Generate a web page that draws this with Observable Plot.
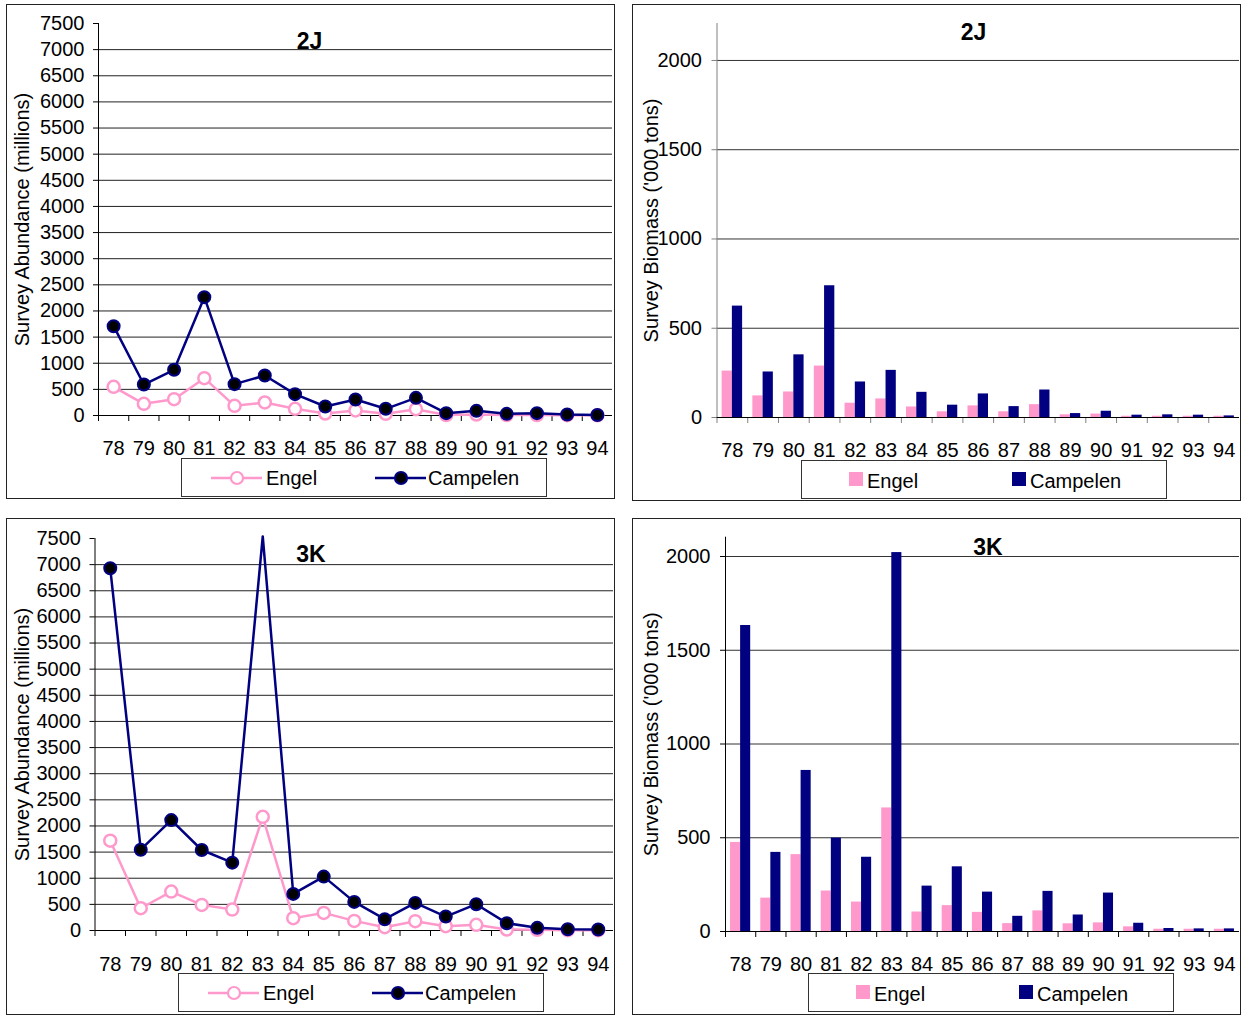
<!DOCTYPE html>
<html><head><meta charset="utf-8">
<script src="https://cdn.jsdelivr.net/npm/d3@7"></script>
<script src="https://cdn.jsdelivr.net/npm/@observablehq/plot@0.6"></script>
<style>
body{margin:0;background:#fff;font-family:"Liberation Sans",Arial,sans-serif;}
#root{position:relative;width:1241px;height:1015px;overflow:hidden;background:#fff;}
.panel{position:absolute;border:1px solid #222;box-sizing:border-box;}
.chart{position:absolute;}
.legend{position:absolute;border:1px solid #333;box-sizing:border-box;background:#fff;font-size:20px;color:#000;}
.legend .item{position:absolute;top:0;height:100%;display:flex;align-items:center;}
.legend svg{position:absolute;}
.legend span{position:absolute;line-height:20px;}
</style>
</head><body>
<div id="root"></div>
<script>
// ---------- data ----------
const years = [78,79,80,81,82,83,84,85,86,87,88,89,90,91,92,93,94];
const seriesNames = ["Engel", "Campelen"];
const abund2J_engel    = [548,223,312,714,185,249,128,38,96,32,121,8,19,8,8,5,3];
const abund2J_campelen = [1709,593,874,2264,600,765,408,172,306,128,338,45,89,32,45,19,10];
const biom2J_engel     = [260,121,143,288,80,104,59,32,65,32,72,15,19,7,7,7,7];
const biom2J_campelen  = [624,255,351,738,199,264,141,69,132,61,154,22,35,13,15,13,9];
const abund3K_engel    = [1718,426,744,490,401,2176,235,337,184,64,178,83,108,19,13,6,6];
const abund3K_campelen = [6930,1546,2112,1540,1298,7540,700,1031,547,216,528,267,503,140,51,25,19];
const biom3K_engel     = [475,178,410,216,157,659,104,138,102,42,110,41,46,25,12,12,12];
const biom3K_campelen  = [1632,422,859,498,396,2021,242,345,210,81,214,88,205,44,16,14,14];
const abundTicks = d3.range(0, 7501, 500);
const biomTicks = [0, 500, 1000, 1500, 2000];
const titles = ["2J", "2J", "3K", "3K"];
const abundLabel = "Survey Abundance (millions)";
const biomLabel = "Survey Biomass ('000 tons)";

const PINK = "#FF99CC", NAVY = "#000080";
const FONT = "'Liberation Sans', Arial, sans-serif";
const rows = (e, c) => years.map((y, i) => ({year: y, engel: e[i], campelen: c[i]}));
const boundaries = d3.range(77.5, 94, 1);

const root = document.getElementById("root");

function place(el, left, top) {
  el.style.position = "absolute";
  el.style.left = left + "px";
  el.style.top = top + "px";
  root.appendChild(el);
}
function panel(left, top, w, h) {
  const d = document.createElement("div");
  d.className = "panel";
  d.style.width = w + "px"; d.style.height = h + "px";
  place(d, left, top);
}

function commonAxes(cfg, yTicks, axisColor) {
  return [
    Plot.axisY({ticks: yTicks, tickSize: 5, tickPadding: cfg.ytp, tickFormat: d => String(d), fontSize: 20, stroke: axisColor, label: null}),
    Plot.axisX({ticks: boundaries, tickSize: 6, tickFormat: () => "", stroke: axisColor, label: null}),
    Plot.axisX({ticks: years, tickSize: 0, tickPadding: cfg.xtp, tickFormat: d => String(d), fontSize: 20, label: null}),
  ];
}

function titleMarks(cfg, title, label) {
  return [
    Plot.text([title], {frameAnchor: "top-left", dx: cfg.tdx, dy: cfg.tdy, text: d => d, fontWeight: "bold", fontSize: 23, textAnchor: "middle", lineAnchor: "middle", fill: "#000"}),
    Plot.text([label], {frameAnchor: "left", dx: cfg.ldx, text: d => d, rotate: -90, fontSize: 20, textAnchor: "middle", lineAnchor: "middle", fill: "#000"})
  ];
}

function abundanceChart(data, cfg, title) {
  return Plot.plot({
    width: cfg.w, height: cfg.h,
    marginLeft: cfg.ml, marginRight: cfg.mr, marginTop: cfg.mt, marginBottom: cfg.mb,
    style: {fontFamily: FONT, fontSize: "20px", color: "#000", background: "transparent", overflow: "visible"},
    x: {domain: [77.5, 94.5]},
    y: {domain: [0, 7500]},
    marks: [
      Plot.ruleY(abundTicks.filter(t => t > 0 && t < 7500), {stroke: "#222", strokeWidth: 1}),
      ...commonAxes(cfg, abundTicks, "#000"),
      Plot.ruleY([0], {stroke: "#000"}),
      Plot.ruleX([77.5], {stroke: "#000"}),
      ...titleMarks(cfg, title, abundLabel),
      Plot.line(data, {x: "year", y: "engel", stroke: PINK, strokeWidth: 2.5}),
      Plot.dot(data, {x: "year", y: "engel", r: 6, fill: "#fff", stroke: PINK, strokeWidth: 2.5}),
      Plot.line(data, {x: "year", y: "campelen", stroke: NAVY, strokeWidth: 2.5}),
      Plot.dot(data.filter(d => d.campelen <= 7500), {x: "year", y: "campelen", r: 6, fill: "#000", stroke: NAVY, strokeWidth: 2})
    ]
  });
}

function biomassChart(data, cfg, title) {
  const step = (cfg.w - cfg.ml - cfg.mr) / years.length;
  return Plot.plot({
    width: cfg.w, height: cfg.h,
    marginLeft: cfg.ml, marginRight: cfg.mr, marginTop: cfg.mt, marginBottom: cfg.mb,
    style: {fontFamily: FONT, fontSize: "20px", color: "#000", background: "transparent", overflow: "visible"},
    x: {domain: [77.5, 94.5]},
    y: {domain: [0, cfg.ymax]},
    marks: [
      Plot.ruleY(biomTicks.filter(t => t > 0), {stroke: "#333", strokeWidth: 1}),
      ...commonAxes(cfg, biomTicks, cfg.axisColor),
      Plot.rectY(data, {x1: d => d.year - 0.5, x2: d => d.year + 0.5, y: "engel", fill: PINK, insetLeft: step / 6, insetRight: step / 2}),
      Plot.rectY(data, {x1: d => d.year - 0.5, x2: d => d.year + 0.5, y: "campelen", fill: NAVY, insetLeft: step / 2, insetRight: step / 6}),
      Plot.ruleY([0], {stroke: "#000"}),
      Plot.ruleX([77.5], {stroke: cfg.axisColor}),
      ...titleMarks(cfg, title, biomLabel)
    ]
  });
}

function lineLegend(left, top) {
  const d = document.createElement("div");
  d.className = "legend";
  d.style.width = "366px"; d.style.height = "39px";
  const mk = (x0, color, fill, name, tx) => {
    const s = d3.create("svg").attr("width", 54).attr("height", 16)
      .style("left", x0 + "px").style("top", "11px");
    s.append("line").attr("x1", 1).attr("x2", 52).attr("y1", 8).attr("y2", 8).attr("stroke", color).attr("stroke-width", 2.5);
    s.append("circle").attr("cx", 27).attr("cy", 8).attr("r", 6).attr("fill", fill).attr("stroke", color).attr("stroke-width", 2.2);
    d.appendChild(s.node());
    const t = document.createElement("span");
    t.textContent = name; t.style.left = tx + "px"; t.style.top = "9px";
    d.appendChild(t);
  };
  mk(28, PINK, "#fff", seriesNames[0], 84);
  mk(192, NAVY, "#000", seriesNames[1], 246);
  place(d, left, top);
}
function barLegend(left, top) {
  const d = document.createElement("div");
  d.className = "legend";
  d.style.width = "366px"; d.style.height = "39px";
  const mk = (x0, color, name) => {
    const s = d3.create("svg").attr("width", 14).attr("height", 14)
      .style("left", x0 + "px").style("top", "11px");
    s.append("rect").attr("width", 14).attr("height", 14).attr("fill", color);
    d.appendChild(s.node());
    const t = document.createElement("span");
    t.textContent = name; t.style.left = (x0 + 18) + "px"; t.style.top = "10px";
    d.appendChild(t);
  };
  mk(47, PINK, seriesNames[0]);
  mk(210, NAVY, seriesNames[1]);
  place(d, left, top);
}

// panels
panel(6, 4, 609, 495);
panel(632, 4, 609, 497);
panel(6, 518, 609, 497);
panel(632, 518, 609, 497);

const cTL = {w: 608, h: 460, ml: 92, mr: 2, mt: 19, mb: 49, ytp: 9, xtp: 25, tdx: 211, tdy: 18, ldx: -76};
const cTR = {w: 608, h: 460, ml: 84.5, mr: 1, mt: 19, mb: 47, ytp: 10, xtp: 25, tdx: 256.5, tdy: 9, ldx: -65.5, ymax: 2207, axisColor: "#808080"};
const cBL = {w: 608, h: 460, ml: 88.5, mr: 1, mt: 20, mb: 48, ytp: 9, xtp: 26, tdx: 216, tdy: 16, ldx: -72.5};
const cBR = {w: 608, h: 460, ml: 93, mr: 1, mt: 18.7, mb: 47, ytp: 10, xtp: 25, tdx: 262.5, tdy: 10.3, ldx: -74, ymax: 2103, axisColor: "#000"};

place(abundanceChart(rows(abund2J_engel, abund2J_campelen), cTL, titles[0]), 6, 4);
place(biomassChart(rows(biom2J_engel, biom2J_campelen), cTR, titles[1]), 632, 4);
place(abundanceChart(rows(abund3K_engel, abund3K_campelen), cBL, titles[2]), 6, 518);
place(biomassChart(rows(biom3K_engel, biom3K_campelen), cBR, titles[3]), 632, 518);

lineLegend(181, 458);
barLegend(801, 460);
lineLegend(178, 973);
barLegend(808, 973);
</script>
</body></html>
